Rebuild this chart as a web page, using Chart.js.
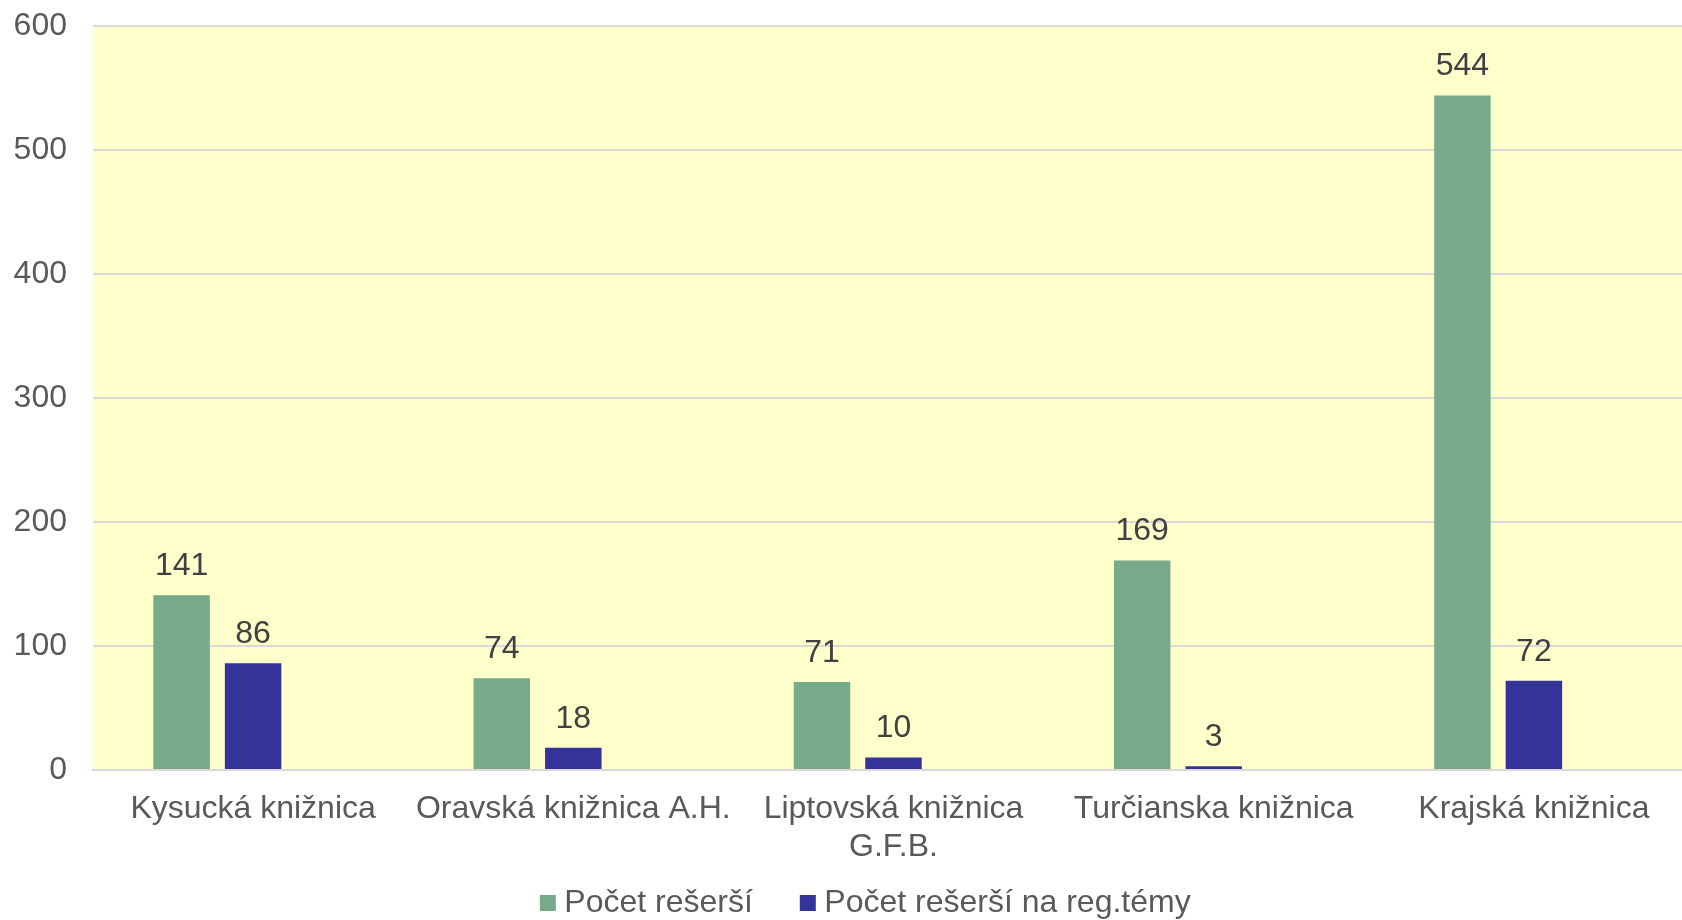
<!DOCTYPE html>
<html lang="sk">
<head>
<meta charset="utf-8">
<title>Počet rešerší</title>
<script src="https://cdn.jsdelivr.net/npm/chart.js@4/dist/chart.umd.min.js"></script>
<style>
  html, body { margin: 0; padding: 0; background: #ffffff; }
  #wrap { width: 1682px; height: 920px; position: relative; }
</style>
</head>
<body>
<div id="wrap"><canvas id="chart"></canvas></div>
<script>
// údaje z grafu
const kniznice = [
  'Kysucká knižnica',
  'Oravská knižnica A.H.',
  ['Liptovská knižnica', 'G.F.B.'],
  'Turčianska knižnica',
  'Krajská knižnica'
];
const pocetReserši = [141, 74, 71, 169, 544];
const pocetRegTemy = [86, 18, 10, 3, 72];
const prazdnaSeria = [null, null, null, null, null]; // tretia (prázdna) séria v skupine
const yTicks = [0, 100, 200, 300, 400, 500, 600];

const FONT = '"Liberation Sans", Arial, sans-serif';
const PRESAH = 12; // plocha grafu v origináli presahuje pravý okraj obrázka

// rozšírenie plochy grafu doprava
const presah = {
  id: 'presah',
  afterLayout(chart) {
    const x = chart.scales.x;
    x.right += PRESAH;
    x.width += PRESAH;
    x.configure();
    chart.chartArea.right += PRESAH;
    chart.chartArea.width += PRESAH;
  }
};

// žlté pozadie plochy grafu
const pozadie = {
  id: 'pozadie',
  beforeDraw(chart) {
    const { ctx, chartArea: a } = chart;
    ctx.save();
    ctx.fillStyle = '#ffffcc';
    ctx.fillRect(a.left, a.top, a.right - a.left, a.bottom - a.top);
    ctx.restore();
    // posun legendy ako v origináli
    const lg = chart.legend;
    if (lg) {
      lg.left = 28;
      lg.right = chart.width + 28;
      lg.top = 877;
    }
  }
};

// hodnoty nad stĺpcami
const hodnoty = {
  id: 'hodnoty',
  afterDatasetsDraw(chart) {
    const { ctx } = chart;
    ctx.save();
    ctx.font = '32px ' + FONT;
    ctx.fillStyle = '#404040';
    ctx.textAlign = 'center';
    ctx.textBaseline = 'middle';
    chart.data.datasets.forEach((ds, i) => {
      const meta = chart.getDatasetMeta(i);
      meta.data.forEach((bar, j) => {
        const v = ds.data[j];
        if (v === null || v === undefined) return;
        ctx.fillText(String(v), bar.x, bar.y - 29);
      });
    });
    ctx.restore();
  }
};

const ctx = document.getElementById('chart').getContext('2d');
const chart = new Chart(ctx, {
  type: 'bar',
  data: {
    labels: kniznice,
    datasets: [
      {
        label: 'Počet rešerší     ',
        data: pocetReserši,
        backgroundColor: '#76aa8a',
        categoryPercentage: 0.67,
        barPercentage: 0.79
      },
      {
        label: 'Počet rešerší na reg.témy',
        data: pocetRegTemy,
        backgroundColor: '#333399',
        categoryPercentage: 0.67,
        barPercentage: 0.79
      },
      {
        label: '',
        data: prazdnaSeria,
        backgroundColor: 'rgba(0,0,0,0)',
        categoryPercentage: 0.67,
        barPercentage: 0.79
      }
    ]
  },
  options: {
    responsive: true,
    maintainAspectRatio: false,
    animation: false,
    layout: { padding: { left: 10, right: 0, top: 0, bottom: 0 } },
    plugins: {
      tooltip: { enabled: false },
      legend: {
        position: 'bottom',
        labels: {
          color: '#595959',
          font: { family: FONT, size: 32 },
          usePointStyle: true,
          pointStyle: 'rect',
          boxWidth: 1,
          boxHeight: 16,
          padding: 10,
          filter: item => item.text !== ''
        }
      }
    },
    scales: {
      x: {
        grid: { display: false, drawTicks: false },
        border: { display: true, color: '#d9d9d9', width: 2 },
        ticks: {
          color: '#595959',
          font: { family: FONT, size: 32 },
          padding: 20,
          maxRotation: 0,
          autoSkip: false
        },
        afterFit: scale => { scale.height = 98; }
      },
      y: {
        min: 0,
        max: 600,
        afterBuildTicks: axis => { axis.ticks = yTicks.map(v => ({ value: v })); },
        grid: { color: '#d9d9d9', lineWidth: 2, drawTicks: false },
        border: { display: false },
        ticks: {
          color: '#595959',
          font: { family: FONT, size: 32 },
          padding: 26
        },
        afterFit: scale => {
          scale.width = 83;
          scale.paddingTop = 26;
          scale.paddingBottom = 0;
        }
      }
    }
  },
  plugins: [presah, pozadie, hodnoty]
});
</script>
</body>
</html>
